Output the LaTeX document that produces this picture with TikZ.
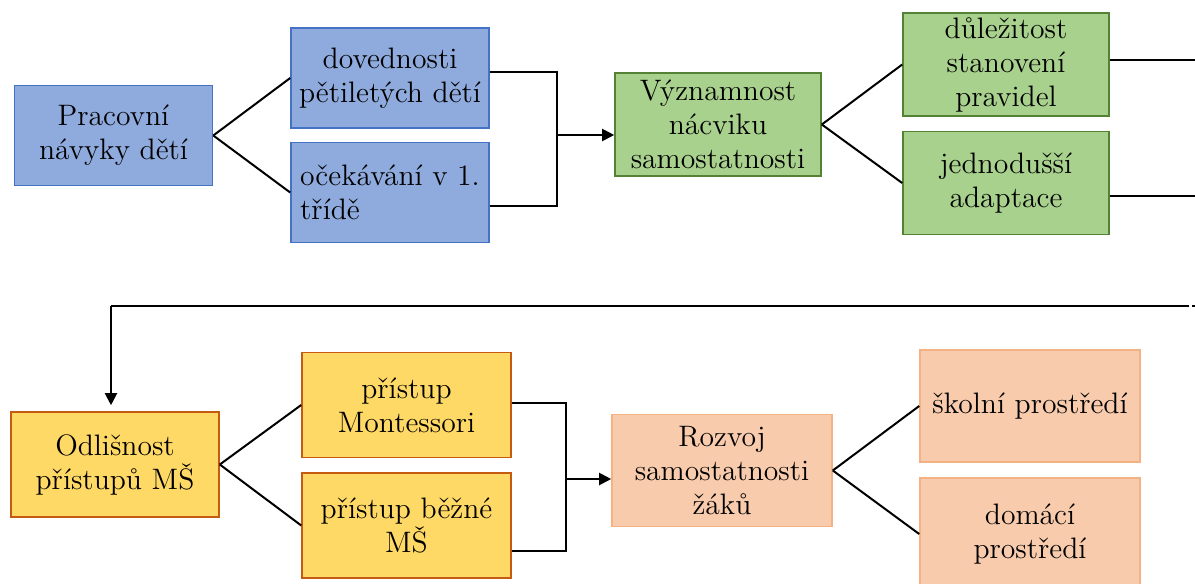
\documentclass[tikz,border=0pt]{standalone}
\usepackage{fontspec}
\usetikzlibrary{arrows.meta}

\definecolor{blueFill}{HTML}{8FAADC}
\definecolor{blueLine}{HTML}{4472C4}
\definecolor{greenFill}{HTML}{A9D18E}
\definecolor{greenLine}{HTML}{548235}
\definecolor{yellowFill}{HTML}{FFD966}
\definecolor{yellowLine}{HTML}{C55A11}
\definecolor{peachFill}{HTML}{F8CBAD}
\definecolor{peachLine}{HTML}{F4B183}

\begin{document}
\begin{tikzpicture}[
        x=0.5pt, y=-0.5pt,
        box/.style={draw, line width=0.8pt, align=center, inner sep=0pt,
                    font=\rmfamily\fontsize{14.8}{17}\selectfont},
        bluebox/.style={box, draw=blueLine, fill=blueFill, minimum width=99pt, minimum height=50pt},
        greenbox/.style={box, draw=greenLine, fill=greenFill, minimum width=103pt, minimum height=51.5pt},
        yellowbox/.style={box, draw=yellowLine, fill=yellowFill, minimum width=104pt, minimum height=52.5pt},
        peachbox/.style={box, draw=peachLine, fill=peachFill, minimum width=110pt, minimum height=56pt},
        link/.style={line width=1pt},
        arrow/.style={link, -{Triangle[length=6pt,width=6pt]}},
        ]
        \useasboundingbox (0,0) rectangle (1195,584);

        % Top row
        \node[bluebox] (prac) at (113.5,135.5) {Pracovní\\návyky dětí};
        \node[bluebox] (dov) at (390,78) {dovednosti\\pětiletých dětí};
        \node[bluebox, align=left] (oce) at (390,192.5) {očekávání v 1.\\třídě};
        \node[greenbox] (vyz) at (718,124.5) {Významnost\\nácviku\\samostatnosti};
        \node[greenbox] (dul) at (1006,64.5) {důležitost\\stanovení\\pravidel};
        \node[greenbox] (jed) at (1006,183) {jednodušší\\adaptace};

        % Bottom row
        \node[yellowbox] (odl) at (115,464.5) {Odlišnost\\přístupů MŠ};
        \node[yellowbox, minimum width=104.5pt] (mon) at (406.5,405) {přístup\\Montessori};
        \node[yellowbox, minimum width=104.5pt] (bez) at (406.5,525.5) {přístup běžné\\MŠ};
        \node[peachbox] (roz) at (722,470.5) {Rozvoj\\samostatnosti\\žáků};
        \node[peachbox] (sko) at (1030,406) {školní prostředí};
        \node[peachbox] (dom) at (1030,534) {domácí\\prostředí};

        % Joints
        \coordinate (j1) at (557,135);
        \coordinate (j2) at (566,479);
        \coordinate (outA) at (1195,60);
        \coordinate (outB) at (1195,196);
        \coordinate (retR) at (1189,306);
        \coordinate (retL) at (111,306);

        % Branches
        \draw[link] (prac.east) -- (dov.west);
        \draw[link] (prac.east) -- (oce.west);
        \draw[link] (vyz.east) -- (dul.west);
        \draw[link] (vyz.east) -- (jed.west);
        \draw[link] (odl.east) -- (mon.west);
        \draw[link] (odl.east) -- (bez.west);
        \draw[link] (roz.east) -- (sko.west);
        \draw[link] (roz.east) -- (dom.west);

        % Elbows into the next box
        \draw[link] ([yshift=3pt]dov.east) -| (j1);
        \draw[link] ([yshift=-6.75pt]oce.east) -| (j1);
        \draw[arrow] (j1) -- (j1 -| vyz.west);
        \draw[link] ([yshift=1pt]mon.east) -| (j2);
        \draw[link] ([yshift=-12.75pt]bez.east) -| (j2);
        \draw[arrow] (j2) -- (j2 -| roz.west);

        % Continuation to the second row
        \draw[link] (dul.east |- outA) -- (outA);
        \draw[link] (jed.east |- outB) -- (outB);
        \draw[link] (retR) -- (retL);
        \draw[link] (1192,306) -- (1195,306);
        \draw[arrow, shorten >=3pt] (retL) -- (retL |- odl.north);

    \end{tikzpicture}
\end{document}
